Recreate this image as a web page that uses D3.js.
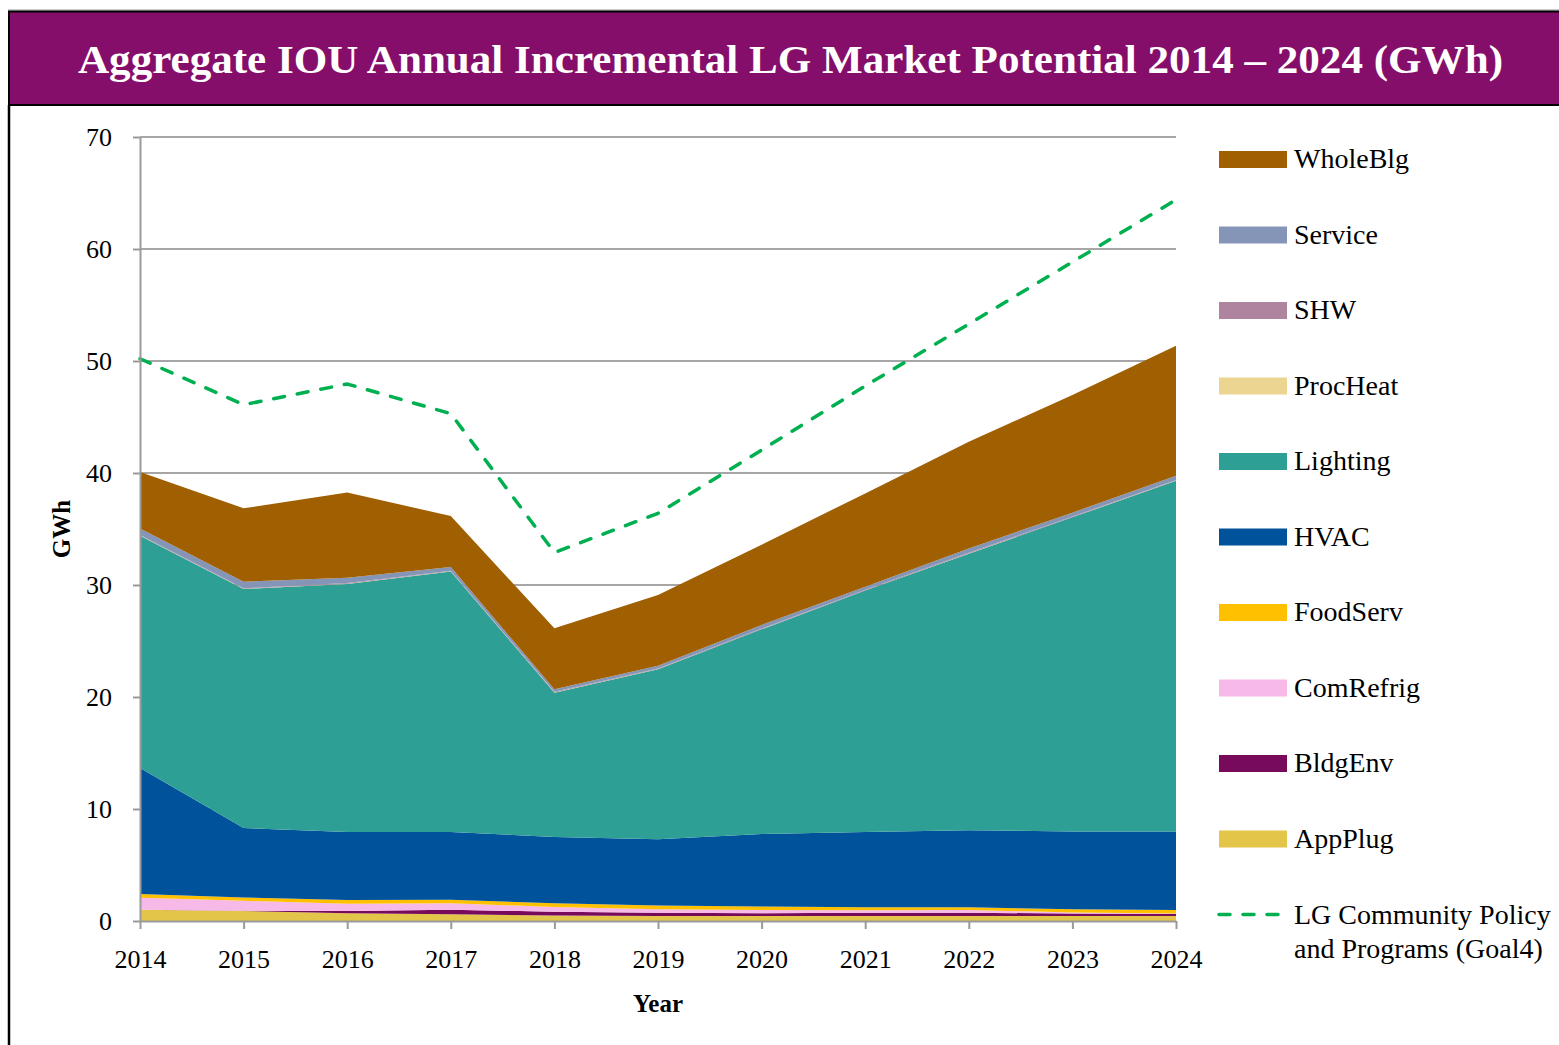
<!DOCTYPE html>
<html>
<head>
<meta charset="utf-8">
<script src="https://cdn.jsdelivr.net/npm/d3@7"></script>
<style>
  html, body { margin: 0; padding: 0; background: #ffffff; }
  svg { display: block; }
  text { font-family: "Palatino Linotype", "Book Antiqua", Palatino, "Liberation Serif", serif; }
</style>
</head>
<body>
<svg id="chart" width="1559" height="1045"></svg>
<script>
// ---------- data ----------
const years = [2014, 2015, 2016, 2017, 2018, 2019, 2020, 2021, 2022, 2023, 2024];
const AppPlug   = [1.00, 0.90, 0.70, 0.60, 0.50, 0.45, 0.45, 0.45, 0.45, 0.45, 0.45];
const BldgEnv   = [0.00, 0.02, 0.20, 0.40, 0.33, 0.29, 0.25, 0.29, 0.29, 0.21, 0.18];
const ComRefrig = [1.08, 0.88, 0.65, 0.58, 0.42, 0.31, 0.28, 0.21, 0.24, 0.11, 0.05];
const FoodServ  = [0.32, 0.30, 0.32, 0.32, 0.33, 0.33, 0.32, 0.27, 0.24, 0.27, 0.30];
const HVAC      = [11.26, 6.20, 6.08, 6.05, 5.92, 5.92, 6.47, 6.73, 6.88, 6.96, 7.02];
const Lighting  = [20.74, 21.34, 22.15, 23.25, 12.89, 15.17, 18.27, 21.55, 24.70, 28.04, 31.31];
const ProcHeat  = [0.02, 0.02, 0.02, 0.02, 0.02, 0.02, 0.02, 0.02, 0.02, 0.02, 0.02];
const SHW       = [0.05, 0.05, 0.05, 0.05, 0.05, 0.05, 0.05, 0.05, 0.05, 0.05, 0.05];
const Service   = [0.58, 0.59, 0.48, 0.33, 0.23, 0.26, 0.32, 0.28, 0.40, 0.35, 0.38];
const WholeBlg  = [5.05, 6.55, 7.60, 4.56, 5.44, 6.30, 7.17, 8.33, 9.53, 10.50, 11.61];
const goalLine  = [50.2, 46.1, 47.95, 45.3, 32.9, 36.4, 42.05, 47.77, 53.3, 58.84, 64.4];
const yTicks = [0, 10, 20, 30, 40, 50, 60, 70];

const seriesNames = ["AppPlug", "BldgEnv", "ComRefrig", "FoodServ", "HVAC", "Lighting", "ProcHeat", "SHW", "Service", "WholeBlg"];
const seriesValues = [AppPlug, BldgEnv, ComRefrig, FoodServ, HVAC, Lighting, ProcHeat, SHW, Service, WholeBlg];
const seriesColors = ["#e3c54a", "#780a5c", "#f7b9e8", "#ffc000", "#00529b", "#2e9f95", "#ebd591", "#ae849e", "#8595b8", "#a05f00"];
const lineName = ["LG Community Policy", "and Programs (Goal4)"];
const titleText = "Aggregate IOU Annual Incremental LG Market Potential 2014 \u2013 2024 (GWh)";

// ---------- build table ----------
const table = years.map((yr, i) => {
  const row = { year: yr };
  seriesNames.forEach((n, k) => { row[n] = seriesValues[k][i]; });
  return row;
});

const svg = d3.select("#chart");
const FONT = "'Palatino Linotype', 'Book Antiqua', Palatino, 'Liberation Serif', serif";

// frame + title banner
svg.append("line").attr("x1", 8).attr("x2", 1559).attr("y1", 10).attr("y2", 10)
  .attr("stroke", "#9a9a9a").attr("stroke-width", 1);
svg.append("rect").attr("x", 9).attr("y", 11.5).attr("width", 1560).attr("height", 93.5)
  .attr("fill", "#860e6b").attr("stroke", "#000").attr("stroke-width", 2);
svg.append("line").attr("x1", 9).attr("x2", 9).attr("y1", 105).attr("y2", 1045)
  .attr("stroke", "#000").attr("stroke-width", 2.5);
svg.append("text").attr("x", 78).attr("y", 73)
  .attr("textLength", 1425).attr("lengthAdjust", "spacingAndGlyphs")
  .attr("fill", "#ffffff").attr("font-weight", "bold").attr("font-size", 39)
  .text(titleText);

// scales
const x = d3.scaleLinear().domain([2014, 2024]).range([140, 1176]);
const y = d3.scaleLinear().domain([0, 70]).range([921, 137]);

// gridlines
svg.append("g").selectAll("line").data(yTicks.filter(t => t > 0)).join("line")
  .attr("x1", x(2014)).attr("x2", x(2024))
  .attr("y1", d => y(d)).attr("y2", d => y(d))
  .attr("stroke", "#a6a6a6").attr("stroke-width", 2);

// stacked areas
const stack = d3.stack().keys(seriesNames);
const layers = stack(table);
const area = d3.area()
  .x(d => x(d.data.year))
  .y0(d => y(d[0]))
  .y1(d => y(d[1]));
svg.append("g").selectAll("path").data(layers).join("path")
  .attr("d", area)
  .attr("fill", (d, i) => seriesColors[i]);

// goal line
const line = d3.line().x((d, i) => x(years[i])).y(d => y(d));
svg.append("path").datum(goalLine)
  .attr("d", line)
  .attr("fill", "none").attr("stroke", "#00b050").attr("stroke-width", 3.5)
  .attr("stroke-dasharray", "11,13").attr("stroke-linecap", "round");

// axes
const yAxis = d3.axisLeft(y).tickValues(yTicks).tickSize(7).tickSizeOuter(0).tickPadding(21);
const gy = svg.append("g").attr("transform", `translate(${x(2014)},0)`).call(yAxis);
gy.selectAll("path, line").attr("stroke", "#9a9a9a").attr("stroke-width", 2);
gy.selectAll("text").attr("font-size", 26).attr("fill", "#000").attr("font-family", FONT);

const xAxis = d3.axisBottom(x).tickValues(years).tickFormat(d3.format("d"))
  .tickSize(8).tickSizeOuter(0).tickPadding(21);
const gx = svg.append("g").attr("transform", `translate(0,${y(0)})`).call(xAxis);
gx.selectAll("path, line").attr("stroke", "#9a9a9a").attr("stroke-width", 2);
gx.selectAll("text").attr("font-size", 26).attr("fill", "#000").attr("font-family", FONT);

// axis titles
svg.append("text").attr("transform", "translate(70,529) rotate(-90)")
  .attr("text-anchor", "middle").attr("font-weight", "bold").attr("font-size", 25)
  .text("GWh");
svg.append("text").attr("x", 658).attr("y", 1012)
  .attr("text-anchor", "middle").attr("font-weight", "bold").attr("font-size", 25)
  .text("Year");

// legend (top = WholeBlg)
const legendOrder = seriesNames.map((n, i) => ({ name: n, color: seriesColors[i] })).reverse();
const lg = svg.append("g");
legendOrder.forEach((d, i) => {
  const cy = 159.5 + i * 75.5;
  lg.append("rect").attr("x", 1219).attr("y", cy - 8.5).attr("width", 68).attr("height", 17)
    .attr("fill", d.color);
  lg.append("text").attr("x", 1294).attr("y", cy + 8.5).attr("font-size", 28).attr("fill", "#000")
    .text(d.name);
});
const ly = 159.5 + 10 * 75.5;
lg.append("line").attr("x1", 1219).attr("x2", 1287).attr("y1", ly).attr("y2", ly)
  .attr("stroke", "#00b050").attr("stroke-width", 3.5)
  .attr("stroke-dasharray", "11,13").attr("stroke-linecap", "round");
lg.append("text").attr("x", 1294).attr("y", ly + 9.5).attr("font-size", 28).attr("fill", "#000").text(lineName[0]);
lg.append("text").attr("x", 1294).attr("y", ly + 43).attr("font-size", 28).attr("fill", "#000").text(lineName[1]);
</script>
</body>
</html>
